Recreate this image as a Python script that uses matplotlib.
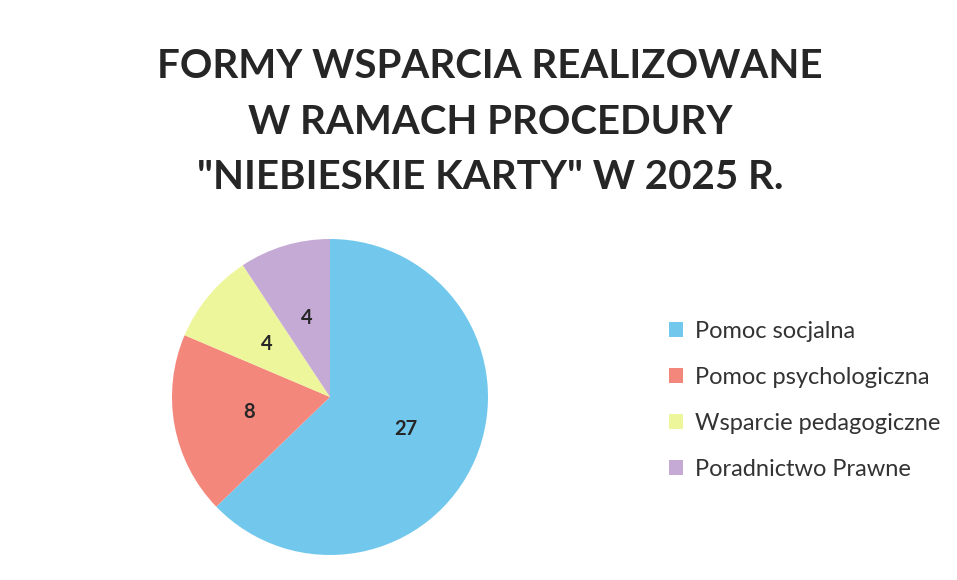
import matplotlib
matplotlib.use("Agg")
import matplotlib.pyplot as plt

categories = ["Pomoc socjalna", "Pomoc psychologiczna", "Wsparcie pedagogiczne", "Poradnictwo Prawne"]
values = [27, 8, 4, 4]
colors = ["#72C8EC", "#F4877C", "#EEF69C", "#C5AAD6"]
title = 'FORMY WSPARCIA REALIZOWANE\nW RAMACH PROCEDURY\n"NIEBIESKIE KARTY" W 2025 R.'

W, H = 957, 580
fig = plt.figure(figsize=(W / 100, H / 100), dpi=100)
fig.patch.set_facecolor("white")

fig.text(490 / W, 1 - 122 / H, title, ha="center", va="center",
         fontsize=29, fontweight="bold", family=["Lato", "DejaVu Sans"],
         color="#262626", linespacing=1.62)

cx, cy, r = 330, 397, 158
ax = fig.add_axes([(cx - r) / W, 1 - (cy + r) / H, 2 * r / W, 2 * r / H])
wedges, texts = ax.pie(values, colors=colors, startangle=90, counterclock=False,
                       radius=1, labels=[str(v) for v in values], labeldistance=0.52,
                       textprops=dict(fontsize=14.5, fontweight="bold",
                                      family=["Lato", "DejaVu Sans"], color="#262626",
                                      ha="center", va="center"))
ax.set_xlim(-1, 1)
ax.set_ylim(-1, 1)
ax.set_aspect("equal")
ax.axis("off")

leg = fig.legend(wedges, categories, loc="upper left",
                 bbox_to_anchor=(648 / W, 1 - 300 / H), frameon=False,
                 prop=dict(family=["Lato", "DejaVu Sans"], size=17),
                 handlelength=0.6, handleheight=0.6, handletextpad=0.5,
                 labelspacing=1.05, labelcolor="#333333")

fig.savefig("out.png", dpi=100, facecolor="white")
